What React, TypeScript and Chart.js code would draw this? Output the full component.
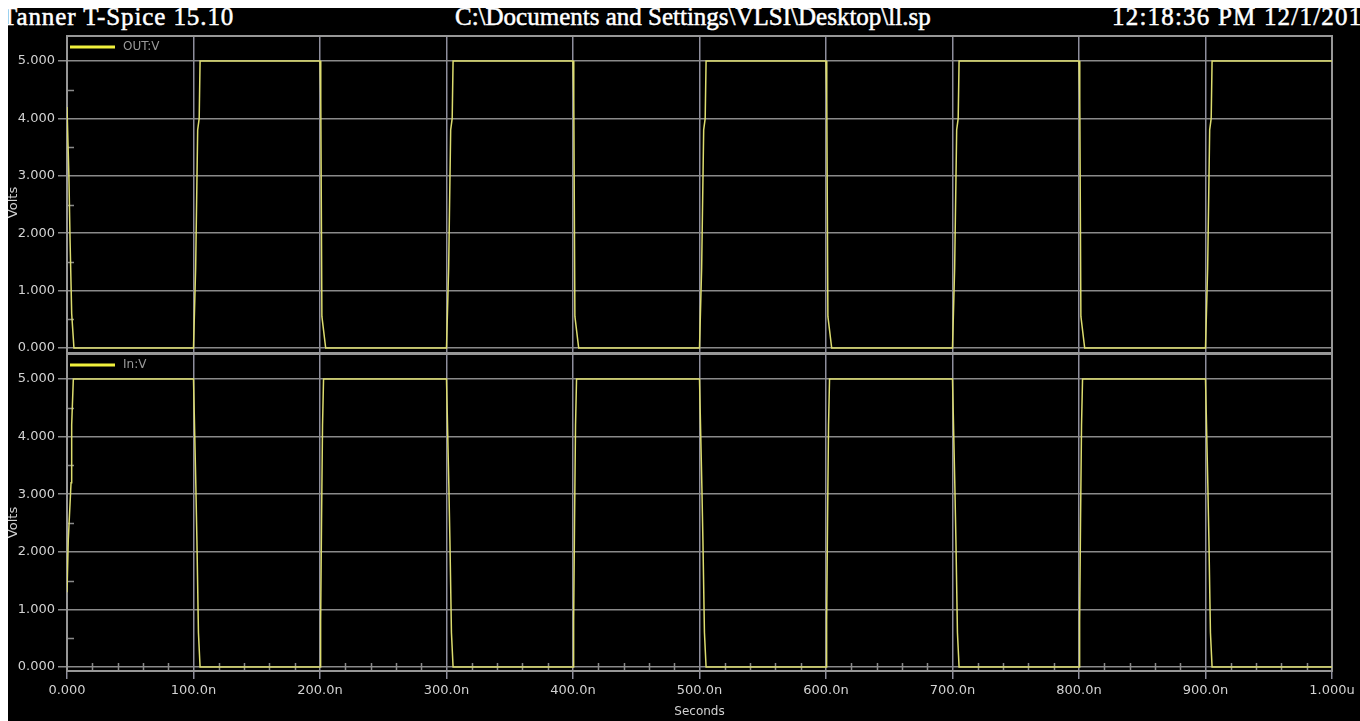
import React, { useEffect, useRef } from "react";
import { Chart, registerables } from "chart.js";

Chart.register(...registerables);

// Transient results: time in ns, voltage in V
const outTime = [
  0, 1.5, 2.4, 3.7, 5.5,
  100, 101.7, 103.3, 104.5, 105.2,
  200, 200.6, 201.5, 204.5,
  300, 301.7, 303.3, 304.5, 305.2,
  400, 400.6, 401.5, 404.5,
  500, 501.7, 503.3, 504.5, 505.2,
  600, 600.6, 601.5, 604.5,
  700, 701.7, 703.3, 704.5, 705.2,
  800, 800.6, 801.5, 804.5,
  900, 901.7, 903.3, 904.5, 905.2,
  1000,
];
const outVolts = [
  4.2, 3.0, 1.9, 0.6, 0,
  0, 1.4, 3.8, 4.0, 5,
  5, 4.35, 0.55, 0,
  0, 1.4, 3.8, 4.0, 5,
  5, 4.35, 0.55, 0,
  0, 1.4, 3.8, 4.0, 5,
  5, 4.35, 0.55, 0,
  0, 1.4, 3.8, 4.0, 5,
  5, 4.35, 0.55, 0,
  0, 1.4, 3.8, 4.0, 5,
  5,
];

const inTime = [
  0, 1, 3.2, 3.7, 5,
  100, 100.6, 101.9, 102.7, 103.9, 105.2,
  200, 200.5, 201.2, 202, 202.8,
  300, 300.6, 301.9, 302.7, 303.9, 305.2,
  400, 400.5, 401.2, 402, 402.8,
  500, 500.6, 501.9, 502.7, 503.9, 505.2,
  600, 600.5, 601.2, 602, 602.8,
  700, 700.6, 701.9, 702.7, 703.9, 705.2,
  800, 800.5, 801.2, 802, 802.8,
  900, 900.6, 901.9, 902.7, 903.9, 905.2,
  1000,
];
const inVolts = [
  1.3, 2.2, 3.2, 4.2, 5,
  5, 4.4, 3.1, 2.2, 0.6, 0,
  0, 0.8, 2.5, 4.2, 5,
  5, 4.4, 3.1, 2.2, 0.6, 0,
  0, 0.8, 2.5, 4.2, 5,
  5, 4.4, 3.1, 2.2, 0.6, 0,
  0, 0.8, 2.5, 4.2, 5,
  5, 4.4, 3.1, 2.2, 0.6, 0,
  0, 0.8, 2.5, 4.2, 5,
  5, 4.4, 3.1, 2.2, 0.6, 0,
  0,
];

const xTickValues = [0, 100, 200, 300, 400, 500, 600, 700, 800, 900, 1000];
const xTickLabels = [
  "0.000", "100.0n", "200.0n", "300.0n", "400.0n", "500.0n",
  "600.0n", "700.0n", "800.0n", "900.0n", "1.000u",
];
const xMinorTicks = xTickValues
  .slice(0, -1)
  .flatMap((v) => [v + 20, v + 40, v + 60, v + 80]);
const yTickValues = [0, 1, 2, 3, 4, 5];
const yMinorTicks = [0.5, 1.5, 2.5, 3.5, 4.5];

const headerLeft = "Tanner T-Spice 15.10";
const headerMid = "C:\\Documents and Settings\\VLSI\\Desktop\\ll.sp";
const headerRight = "12:18:36 PM 12/1/2011";

const GRID = "#8a8a8a";
const VGRID = "#8e8e9c";
const FRAME = "#979797";
const TEXT = "#d2d2d2";
const TRACE = "#dcdc6e";
const LEGEND = "#f0f03c";
const FONT = "'DejaVu Sans', sans-serif";

const zip = (xs: number[], ys: number[]) => xs.map((x, i) => ({ x, y: ys[i] }));

// Frame, minor ticks, in-plot legend and the rotated "Volts" caption of each panel
const scopeDecor = {
  id: "scopeDecor",
  beforeDatasetsDraw(chart: any, _args: any, opts: any) {
    const { ctx, chartArea: a, scales } = chart;
    const xs = scales.x;
    const ys = scales.y;
    ctx.save();
    ctx.strokeStyle = GRID;
    ctx.lineWidth = 1.5;
    ctx.beginPath();
    for (const v of yMinorTicks) {
      const py = Math.round(ys.getPixelForValue(v)) + 0.5;
      ctx.moveTo(a.left, py);
      ctx.lineTo(a.left + 7, py);
    }
    if (opts.xMinor) {
      for (const v of xMinorTicks) {
        const px = Math.round(xs.getPixelForValue(v)) + 0.5;
        ctx.moveTo(px, a.bottom - 8);
        ctx.lineTo(px, a.bottom + 1);
      }
    }
    ctx.stroke();

    ctx.strokeStyle = FRAME;
    ctx.lineWidth = 2;
    ctx.strokeRect(a.left, a.top, a.right - a.left, a.bottom - a.top);

    // legend: swatch line + series name
    const ly = a.top + 11;
    ctx.strokeStyle = LEGEND;
    ctx.lineWidth = 3;
    ctx.beginPath();
    ctx.moveTo(a.left + 3, ly);
    ctx.lineTo(a.left + 48, ly);
    ctx.stroke();
    ctx.fillStyle = "#9a9a9a";
    ctx.font = `12px ${FONT}`;
    ctx.textAlign = "left";
    ctx.textBaseline = "middle";
    ctx.fillText(chart.data.datasets[0].label, a.left + 56, ly);

    ctx.translate(opts.captionX, (a.top + a.bottom) / 2 + opts.captionShift);
    ctx.rotate(-Math.PI / 2);
    ctx.fillStyle = TEXT;
    ctx.font = `13px ${FONT}`;
    ctx.textAlign = "center";
    ctx.textBaseline = "middle";
    ctx.fillText("Volts", 0, 0);
    ctx.restore();
  },
};

// tick labels may overhang the plot frame; keep the frame where layout padding puts it
const noOverhang = (s: any) => {
  s.paddingTop = 0;
  s.paddingBottom = 0;
  s.paddingLeft = 0;
  s.paddingRight = 0;
};

function makeConfig(
  label: string,
  times: number[],
  volts: number[],
  yMin: number,
  yMax: number,
  showX: boolean,
  padding: any,
  captionShift: number
): any {
  return {
    type: "line",
    data: {
      datasets: [
        {
          label,
          data: zip(times, volts),
          borderColor: TRACE,
          backgroundColor: LEGEND,
          borderWidth: 1.5,
          pointRadius: 0,
          tension: 0,
        },
      ],
    },
    options: {
      responsive: false,
      animation: false,
      devicePixelRatio: 1,
      layout: { padding },
      plugins: {
        tooltip: { enabled: false },
        legend: { display: false },
        scopeDecor: { xMinor: showX, captionX: 5.5, captionShift },
      },
      scales: {
        x: {
          type: "linear",
          min: 0,
          max: 1000,
          afterBuildTicks: (s: any) => {
            s.ticks = xTickValues.map((value) => ({ value }));
          },
          afterFit: (s: any) => {
            s.height = showX ? 50 : 0;
            noOverhang(s);
          },
          border: { display: false },
          grid: {
            color: VGRID,
            lineWidth: 1.5,
            drawTicks: showX,
            tickLength: 8,
          },
          ticks: {
            display: showX,
            autoSkip: false,
            maxRotation: 0,
            padding: 4,
            color: TEXT,
            font: { family: FONT, size: 13 },
            callback: (v: number) => xTickLabels[xTickValues.indexOf(v)],
          },
          title: {
            display: showX,
            text: "Seconds",
            color: TEXT,
            font: { family: FONT, size: 12 },
            padding: { top: 0, bottom: 2 },
          },
        },
        y: {
          min: yMin,
          max: yMax,
          afterBuildTicks: (s: any) => {
            s.ticks = yTickValues.map((value) => ({ value }));
          },
          afterFit: (s: any) => {
            s.width = 59;
            noOverhang(s);
          },
          border: { display: false },
          grid: { color: GRID, lineWidth: 1.5, tickLength: 9 },
          ticks: {
            padding: 3,
            color: TEXT,
            font: { family: FONT, size: 13 },
            callback: (v: number) => v.toFixed(3),
          },
        },
      },
    },
    plugins: [scopeDecor],
  };
}

export default function App() {
  const topRef = useRef<HTMLCanvasElement | null>(null);
  const bottomRef = useRef<HTMLCanvasElement | null>(null);

  useEffect(() => {
    const top = new Chart(
      topRef.current as HTMLCanvasElement,
      makeConfig("OUT:V", outTime, outVolts, -0.087, 5.436, false, { top: 4, bottom: 2, left: 0, right: 28 }, 8)
    );
    const bottom = new Chart(
      bottomRef.current as HTMLCanvasElement,
      makeConfig("In:V", inTime, inVolts, -0.069, 5.434, true, { top: 4, bottom: 0, left: 0, right: 28 }, 10)
    );
    return () => {
      top.destroy();
      bottom.destroy();
    };
  }, []);

  const headerStyle: React.CSSProperties = {
    position: "absolute",
    top: -4,
    color: "#ffffff",
    fontFamily: "'Liberation Serif', 'Times New Roman', serif",
    fontSize: 25,
    lineHeight: "25px",
    whiteSpace: "nowrap",
    WebkitTextStroke: "0.5px #ffffff",
  };

  return (
    <div
      style={{
        position: "fixed",
        left: 8,
        top: 8,
        width: 1352,
        height: 713,
        background: "#000000",
        overflow: "hidden",
      }}
    >
      <div style={{ ...headerStyle, left: -6, letterSpacing: "0.9px" }}>{headerLeft}</div>
      <div style={{ ...headerStyle, left: 447 }}>{headerMid}</div>
      <div style={{ ...headerStyle, left: 1104, letterSpacing: "1.2px" }}>{headerRight}</div>
      <canvas
        ref={topRef}
        width={1352}
        height={323}
        style={{ position: "absolute", left: 0, top: 24, width: 1352, height: 323 }}
      />
      <canvas
        ref={bottomRef}
        width={1352}
        height={371}
        style={{ position: "absolute", left: 0, top: 342, width: 1352, height: 371 }}
      />
    </div>
  );
}
